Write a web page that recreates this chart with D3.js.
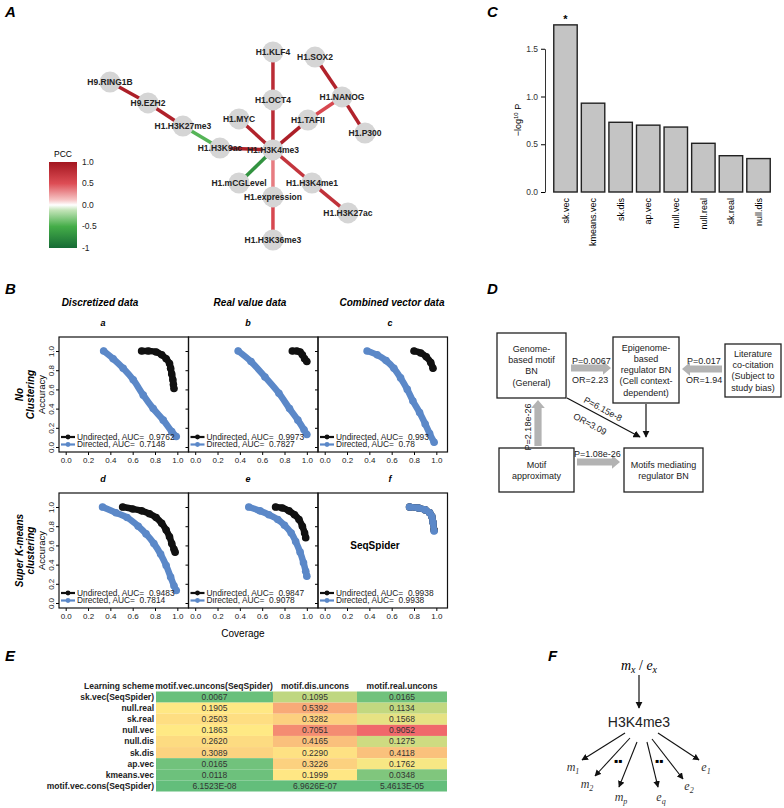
<!DOCTYPE html>
<html>
<head>
<meta charset="utf-8">
<script src="https://cdn.jsdelivr.net/npm/d3@7"></script>
<style>
body { margin: 0; background: #fff; }
svg { font-family: "Liberation Sans", Arial, sans-serif; }
</style>
</head>
<body>
<svg id="fig" width="784" height="808"></svg>
<script>

// ---------- A: PCC network ----------
var nodeNames = ["H9.RING1B", "H9.EZH2", "H1.H3K27me3", "H1.H3K9ac", "H1.MYC", "H1.mCGLevel",
    "H1.H3K4me3", "H1.KLF4", "H1.OCT4", "H1.SOX2", "H1.NANOG", "H1.P300", "H1.TAFII",
    "H1.H3K4me1", "H1.expression", "H1.H3K27ac", "H1.H3K36me3"];
// normalised layout position of each node (0..1)
var nodeLayout = [[0, 0.16], [0.149, 0.271], [0.286, 0.394], [0.431, 0.511], [0.506, 0.356], [0.506, 0.697],
    [0.639, 0.521], [0.639, 0], [0.639, 0.255], [0.804, 0.027], [0.910, 0.239], [1.0, 0.431], [0.776, 0.362],
    [0.792, 0.697], [0.639, 0.771], [0.933, 0.856], [0.639, 1.0]];
var edgeList = [
    ["H9.RING1B", "H9.EZH2", 0.92], ["H9.EZH2", "H1.H3K27me3", 0.9], ["H1.H3K27me3", "H1.H3K9ac", -0.45],
    ["H1.H3K9ac", "H1.H3K4me3", 0.92], ["H1.MYC", "H1.H3K4me3", 0.88], ["H1.mCGLevel", "H1.H3K4me3", -0.7],
    ["H1.KLF4", "H1.OCT4", 0.8], ["H1.OCT4", "H1.H3K4me3", 0.8], ["H1.TAFII", "H1.H3K4me3", 0.92],
    ["H1.TAFII", "H1.NANOG", 0.55], ["H1.SOX2", "H1.NANOG", 0.88], ["H1.NANOG", "H1.P300", 0.88],
    ["H1.H3K4me3", "H1.H3K4me1", 0.72], ["H1.H3K4me3", "H1.expression", 0.35],
    ["H1.H3K4me1", "H1.H3K27ac", 0.75], ["H1.expression", "H1.H3K36me3", 0.55]];
var pccTicks = [1, 0.5, 0, -0.5, -1];
var pccTickLabels = ["1.0", "0.5", "0.0", "-0.5", "-1"];

// ---------- B: coverage / accuracy ----------
var rocPanels = ["a", "b", "c", "d", "e", "f"];
var rocColTitles = ["Discretized data", "Real value data", "Combined vector data"];
var undirectedAUC = ["0.9762", "0.9973", "0.993", "0.9483", "0.9847", "0.9938"];
var directedAUC = ["0.7148", "0.7827", "0.78", "0.7814", "0.9078", "0.9938"];
var undirectedCurves = [
    [[0.68, 1.0], [0.74, 1.0], [0.81, 0.99], [0.86, 0.96], [0.9, 0.92], [0.93, 0.87], [0.94, 0.82], [0.95, 0.76], [0.96, 0.7], [0.965, 0.65], [0.97, 0.61]],
    [[0.87, 1.0], [0.91, 1.0], [0.94, 0.99], [0.96, 0.96], [0.98, 0.92], [1.0, 0.89]],
    [[0.8, 1.0], [0.86, 0.98], [0.91, 0.94], [0.95, 0.88], [0.97, 0.82]],
    [[0.51, 1.0], [0.6, 0.98], [0.68, 0.96], [0.75, 0.93], [0.81, 0.89], [0.86, 0.83], [0.9, 0.76], [0.93, 0.69], [0.95, 0.62], [0.97, 0.56], [0.98, 0.53]],
    [[0.72, 1.0], [0.78, 0.99], [0.84, 0.96], [0.89, 0.92], [0.93, 0.87], [0.96, 0.8], [0.98, 0.73], [0.99, 0.68]],
    [[0.76, 1.0], [0.84, 0.99], [0.9, 0.97], [0.94, 0.94], [0.96, 0.9], [0.97, 0.84], [0.98, 0.76]]];
var directedCurves = [
    [[0.34, 1.0], [0.425, 0.92], [0.515, 0.82], [0.605, 0.7], [0.695, 0.54], [0.784, 0.4], [0.874, 0.28], [0.95, 0.16], [0.99, 0.11]],
    [[0.385, 1.0], [0.5, 0.89], [0.625, 0.73], [0.75, 0.56], [0.845, 0.4], [0.92, 0.28], [0.975, 0.18], [1.0, 0.13]],
    [[0.38, 1.0], [0.47, 0.96], [0.55, 0.9], [0.62, 0.82], [0.68, 0.72], [0.74, 0.6], [0.79, 0.48], [0.85, 0.36], [0.9, 0.24], [0.94, 0.14], [0.98, 0.05]],
    [[0.33, 1.0], [0.45, 0.94], [0.55, 0.89], [0.65, 0.8], [0.72, 0.72], [0.79, 0.62], [0.85, 0.51], [0.9, 0.39], [0.94, 0.27], [0.97, 0.18], [0.99, 0.13]],
    [[0.48, 1.0], [0.58, 0.96], [0.66, 0.92], [0.74, 0.87], [0.8, 0.81], [0.86, 0.73], [0.9, 0.64], [0.94, 0.53], [0.97, 0.42], [0.99, 0.33], [1.0, 0.28]],
    [[0.76, 1.0], [0.84, 0.99], [0.9, 0.97], [0.94, 0.94], [0.96, 0.9], [0.97, 0.84], [0.98, 0.75]]];
var coverageTicks = [0, 0.2, 0.4, 0.6, 0.8, 1.0];

// ---------- C: -log10 P per learning scheme ----------
var schemes = ["sk.vec", "kmeans.vec", "sk.dis", "ap.vec", "null.vec", "null.real", "sk.real", "null.dis"];
var negLogP = [1.75, 0.93, 0.73, 0.70, 0.68, 0.51, 0.38, 0.35];
var pTicks = [0, 0.5, 1.0, 1.5];

// ---------- E: table ----------
var tableHeader = ["Learning scheme", "motif.vec.uncons(SeqSpider)", "motif.dis.uncons", "motif.real.uncons"];
var tableRows = ["sk.vec(SeqSpider)", "null.real", "sk.real", "null.vec", "null.dis", "sk.dis", "ap.vec", "kmeans.vec", "motif.vec.cons(SeqSpider)"];
var colVecUncons = ["0.0067", "0.1905", "0.2503", "0.1863", "0.2620", "0.3089", "0.0165", "0.0118", "6.1523E-08"];
var colDisUncons = ["0.1095", "0.5392", "0.3282", "0.7051", "0.4165", "0.2290", "0.3226", "0.1999", "6.9626E-07"];
var colRealUncons = ["0.0165", "0.1134", "0.1568", "0.9052", "0.1275", "0.4118", "0.1762", "0.0348", "5.4613E-05"];


var svg = d3.select("#fig");
var defs = svg.append("defs");

defs.append("marker")
    .attr("id", "arrowBlack")
    .attr("viewBox", "0 0 10 10")
    .attr("refX", 9).attr("refY", 5)
    .attr("markerWidth", 6).attr("markerHeight", 6)
    .attr("orient", "auto")
    .append("path")
    .attr("d", "M0,0L10,5L0,10z")
    .attr("fill", "#111");

var panelLetters = {
    init: function() {
        var spots = [["A", 5, 17], ["B", 5, 294], ["C", 487, 17], ["D", 487, 294], ["E", 5, 661], ["F", 548, 661]];
        svg.selectAll(".panel-letter")
            .data(spots)
            .enter()
            .append("text")
            .attr("class", "panel-letter")
            .attr("x", function(d) { return d[1] })
            .attr("y", function(d) { return d[2] })
            .attr("font-size", 15)
            .attr("font-weight", "bold")
            .attr("font-style", "italic")
            .text(function(d) { return d[0] })
    }
}

var createNetwork = {
    init: function() {
        var g = svg.append("g").attr("class", "network");
        var nx = d3.scaleLinear().domain([0, 1]).range([110, 365]);
        var ny = d3.scaleLinear().domain([0, 1]).range([52, 240]);
        var pcc = d3.scaleLinear()
            .domain([-1, -0.5, -0.12, 0, 0.12, 0.5, 1])
            .range(["#166b35", "#44ad48", "#c3e4b8", "#ffffff", "#f6c4c4", "#dd4d55", "#a3161f"]);

        var pos = {};
        nodeNames.forEach(function(n, i) {
            pos[n] = [nx(nodeLayout[i][0]), ny(nodeLayout[i][1])];
        });

        g.selectAll(".edge")
            .data(edgeList)
            .enter()
            .append("line")
            .attr("class", "edge")
            .attr("x1", function(d) { return pos[d[0]][0] })
            .attr("y1", function(d) { return pos[d[0]][1] })
            .attr("x2", function(d) { return pos[d[1]][0] })
            .attr("y2", function(d) { return pos[d[1]][1] })
            .attr("stroke", function(d) { return pcc(d[2]) })
            .attr("stroke-width", 3.5)

        g.selectAll(".node")
            .data(nodeNames)
            .enter()
            .append("circle")
            .attr("class", "node")
            .attr("cx", function(d) { return pos[d][0] })
            .attr("cy", function(d) { return pos[d][1] })
            .attr("r", 10.5)
            .attr("fill", "#d5d5d5")

        g.selectAll(".node-label")
            .data(nodeNames)
            .enter()
            .append("text")
            .attr("class", "node-label")
            .attr("x", function(d) { return pos[d][0] })
            .attr("y", function(d) { return pos[d][1] })
            .attr("dy", "0.35em")
            .attr("text-anchor", "middle")
            .attr("font-size", 8.5)
            .attr("font-weight", "bold")
            .attr("fill", "#222")
            .text(function(d) { return d })

        // colour bar
        var grad = defs.append("linearGradient")
            .attr("id", "pccGrad")
            .attr("x1", 0).attr("y1", 0).attr("x2", 0).attr("y2", 1);
        pcc.domain().slice().reverse().forEach(function(v) {
            grad.append("stop")
                .attr("offset", ((1 - v) / 2 * 100) + "%")
                .attr("stop-color", pcc(v));
        });
        var cb = d3.scaleLinear().domain([1, -1]).range([162, 248]);
        g.append("rect")
            .attr("x", 49).attr("y", cb(1))
            .attr("width", 28).attr("height", cb(-1) - cb(1))
            .attr("fill", "url(#pccGrad)")
        g.append("text")
            .attr("x", 63).attr("y", 157)
            .attr("text-anchor", "middle")
            .attr("font-size", 8.5)
            .text("PCC")
        g.selectAll(".pcc-tick")
            .data(pccTicks)
            .enter()
            .append("text")
            .attr("class", "pcc-tick")
            .attr("x", 82)
            .attr("y", function(d) { return cb(d) })
            .attr("dy", "0.35em")
            .attr("font-size", 8.5)
            .attr("fill", "#222")
            .text(function(d, i) { return pccTickLabels[i] })
    }
}

var createRoc = {
    init: function() {
        var g = svg.append("g").attr("class", "roc");
        var pw = 129.5;
        var rows = [[337, 452], [493, 608]];
        var line = d3.line().curve(d3.curveCatmullRom);

        rocColTitles.forEach(function(t, i) {
            g.append("text")
                .attr("x", [100, 250, 392][i]).attr("y", 306)
                .attr("text-anchor", "middle")
                .attr("font-size", 10).attr("font-weight", "bold").attr("font-style", "italic")
                .text(t)
        });

        rocPanels.forEach(function(name, k) {
            var col = k % 3, row = Math.floor(k / 3);
            var left = 59 + col * pw;
            var top = rows[row][0], bottom = rows[row][1];
            var x = d3.scaleLinear().domain([-0.06, 1.1]).range([left, left + pw]);
            var y = d3.scaleLinear().domain([-0.052, 1.146]).range([bottom, top]);

            g.append("text")
                .attr("x", [103, 248, 390][col]).attr("y", top - 11)
                .attr("text-anchor", "middle")
                .attr("font-size", 9).attr("font-weight", "bold").attr("font-style", "italic")
                .text(name)

            var ya = g.append("g")
                .attr("transform", "translate(" + left + ",0)")
                .call(d3.axisLeft(y).tickValues(coverageTicks).tickSize(3)
                    .tickFormat(col === 0 ? d3.format(".1f") : ""));
            ya.select(".domain").remove();
            ya.selectAll("text")
                .attr("x", 0).attr("y", -5).attr("dy", 0)
                .attr("transform", "rotate(-90)")
                .attr("text-anchor", "middle")
                .attr("font-size", 8).attr("font-family", null).attr("fill", "#222");

            var xa = g.append("g")
                .attr("transform", "translate(0," + bottom + ")")
                .call(d3.axisBottom(x).tickValues(coverageTicks).tickSize(3).tickPadding(2).tickFormat(d3.format(".1f")));
            xa.select(".domain").remove();
            xa.selectAll("text").attr("font-size", 8).attr("font-family", null).attr("fill", "#222");

            var series = [[undirectedCurves[k], "#111"], [directedCurves[k], "#5b88c8"]];
            series.forEach(function(s) {
                var pts = s[0].map(function(p) { return [x(p[0]), y(p[1])] });
                g.append("path")
                    .attr("d", line(pts))
                    .attr("fill", "none")
                    .attr("stroke", s[1])
                    .attr("stroke-width", 6.5)
                    .attr("stroke-linecap", "round")
                    .attr("stroke-linejoin", "round")
                g.selectAll(null)
                    .data(pts)
                    .enter()
                    .append("circle")
                    .attr("cx", function(d) { return d[0] })
                    .attr("cy", function(d) { return d[1] })
                    .attr("r", 3.8)
                    .attr("fill", s[1])
            });

            // legend
            var leg = [["Undirected, AUC=\u00a0 " + undirectedAUC[k], "#111", bottom - 15],
                       ["Directed, AUC=\u00a0 " + directedAUC[k], "#5b88c8", bottom - 7.5]];
            leg.forEach(function(l) {
                g.append("line")
                    .attr("x1", left + 2).attr("x2", left + 16)
                    .attr("y1", l[2]).attr("y2", l[2])
                    .attr("stroke", l[1]).attr("stroke-width", 2.2)
                g.append("circle")
                    .attr("cx", left + 9).attr("cy", l[2]).attr("r", 2.4)
                    .attr("fill", l[1])
                g.append("text")
                    .attr("x", left + 18).attr("y", l[2])
                    .attr("dy", "0.35em")
                    .attr("font-size", 8.4).attr("fill", "#222")
                    .text(l[0])
            });

            g.append("rect")
                .attr("x", left).attr("y", top)
                .attr("width", pw).attr("height", bottom - top)
                .attr("fill", "none").attr("stroke", "#111").attr("stroke-width", 1.2)
        });

        g.append("text")
            .attr("x", 375).attr("y", 549)
            .attr("text-anchor", "middle")
            .attr("font-size", 10).attr("font-weight", "bold")
            .text("SeqSpider")

        g.append("text")
            .attr("x", 243).attr("y", 637)
            .attr("text-anchor", "middle")
            .attr("font-size", 10)
            .text("Coverage")

        var rowTitles = [[["No", "Clustering"], 394.5], [["Super K-means", "clustering"], 550.5]];
        rowTitles.forEach(function(r) {
            r[0].forEach(function(t, j) {
                g.append("text")
                    .attr("transform", "translate(" + (23 + j * 11) + "," + r[1] + ") rotate(-90)")
                    .attr("text-anchor", "middle")
                    .attr("font-size", 10).attr("font-weight", "bold").attr("font-style", "italic")
                    .text(t)
            });
            g.append("text")
                .attr("transform", "translate(45," + r[1] + ") rotate(-90)")
                .attr("text-anchor", "middle")
                .attr("font-size", 9.5)
                .text("Accuracy")
        });
    }
}

var createBars = {
    init: function() {
        var g = svg.append("g").attr("class", "bars");
        var x = d3.scaleBand().domain(schemes).range([551, 773]).paddingInner(0.15).paddingOuter(0.1);
        var y = d3.scaleLinear().domain([0, 1.5]).range([192, 48.75]);

        g.selectAll(".bar")
            .data(schemes)
            .enter()
            .append("rect")
            .attr("class", "bar")
            .attr("x", function(d) { return x(d) })
            .attr("width", x.bandwidth())
            .attr("y", function(d, i) { return y(negLogP[i]) })
            .attr("height", function(d, i) { return y(0) - y(negLogP[i]) })
            .attr("fill", "#c4c4c4")
            .attr("stroke", "#222")
            .attr("stroke-width", 1.4)

        g.append("text")
            .attr("x", x(schemes[0]) + x.bandwidth() / 2)
            .attr("y", y(negLogP[0]) - 2)
            .attr("text-anchor", "middle")
            .attr("font-size", 11).attr("font-weight", "bold")
            .text("*")

        var ya = g.append("g")
            .attr("transform", "translate(545,0)")
            .call(d3.axisLeft(y).tickValues(pTicks).tickSize(4).tickSizeOuter(0).tickFormat(d3.format(".1f")));
        ya.selectAll("text").attr("font-size", 8.5).attr("font-family", null).attr("fill", "#333");
        ya.select(".domain").attr("stroke", "#333");

        g.selectAll(".bar-label")
            .data(schemes)
            .enter()
            .append("text")
            .attr("class", "bar-label")
            .attr("transform", function(d) {
                return "translate(" + (x(d) + x.bandwidth() / 2) + ",198) rotate(-90)";
            })
            .attr("dy", "0.35em")
            .attr("text-anchor", "end")
            .attr("font-size", 9)
            .text(function(d) { return d })

        var lab = g.append("text")
            .attr("transform", "translate(521,120) rotate(-90)")
            .attr("text-anchor", "middle")
            .attr("font-size", 9);
        lab.append("tspan").text("\u2212log");
        lab.append("tspan").attr("font-size", 6).attr("dy", -3).text("10");
        lab.append("tspan").attr("dy", 3).text(" P");
    }
}

var createFlow = {
    init: function() {
        var g = svg.append("g").attr("class", "flow");
        var boxes = [
            [497, 333, 69, 65, ["Genome-", "based motif", "BN", "(General)"]],
            [613, 337, 66, 66, ["Epigenome-", "based", "regulator BN", "(Cell context-", "dependent)"]],
            [725, 344, 56, 53, ["Literature", "co-citation", "(Subject to", "study bias)"]],
            [499, 448, 75, 44, ["Motif", "approximaty"]],
            [624, 448, 79, 44, ["Motifs mediating", "regulator BN"]]];

        boxes.forEach(function(b) {
            g.append("rect")
                .attr("x", b[0]).attr("y", b[1]).attr("width", b[2]).attr("height", b[3])
                .attr("fill", "#fff").attr("stroke", "#222").attr("stroke-width", 1.3)
            var cy = b[1] + b[3] / 2, n = b[4].length;
            b[4].forEach(function(t, i) {
                g.append("text")
                    .attr("x", b[0] + b[2] / 2)
                    .attr("y", cy + (i - (n - 1) / 2) * 11.3)
                    .attr("dy", "0.35em")
                    .attr("text-anchor", "middle")
                    .attr("font-size", 9).attr("fill", "#222")
                    .text(t)
            });
        });

        function blockArrow(x1, y1, x2, y2) {
            var L = Math.hypot(x2 - x1, y2 - y1), a = Math.atan2(y2 - y1, x2 - x1) * 180 / Math.PI;
            var s = 3.6, h = 6.8, hl = 8;
            g.append("path")
                .attr("d", "M0," + (-s) + "L" + (L - hl) + "," + (-s) + "L" + (L - hl) + "," + (-h) + "L" + L + ",0L" +
                    (L - hl) + "," + h + "L" + (L - hl) + "," + s + "L0," + s + "Z")
                .attr("transform", "translate(" + x1 + "," + y1 + ") rotate(" + a + ")")
                .attr("fill", "#b3b3b3")
        }
        blockArrow(571, 368, 611, 368);
        blockArrow(722, 369, 682, 369);
        blockArrow(538, 446, 538, 400);
        blockArrow(577, 462, 620, 462);

        g.append("line")
            .attr("x1", 567).attr("y1", 398).attr("x2", 640).attr("y2", 437)
            .attr("stroke", "#111").attr("stroke-width", 1.2)
            .attr("marker-end", "url(#arrowBlack)")
        g.append("line")
            .attr("x1", 646).attr("y1", 404).attr("x2", 646).attr("y2", 437)
            .attr("stroke", "#111").attr("stroke-width", 1.2)
            .attr("marker-end", "url(#arrowBlack)")

        var notes = [["P=0.0067", 572, 364, 0], ["OR=2.23", 572, 383, 0],
                     ["P=0.017", 687, 364, 0], ["OR=1.94", 686, 383, 0],
                     ["P=1.08e-26", 574, 457, 0]];
        notes.forEach(function(n) {
            g.append("text")
                .attr("x", n[1]).attr("y", n[2])
                .attr("font-size", 9).attr("fill", "#222")
                .text(n[0])
        });
        var tilted = [["P=2.18e-26", 528, 427, -90], ["P=6.15e-8", 603, 409, 28], ["OR=3.09", 590, 424, 28]];
        tilted.forEach(function(n) {
            g.append("text")
                .attr("transform", "translate(" + n[1] + "," + n[2] + ") rotate(" + n[3] + ")")
                .attr("dy", "0.35em")
                .attr("text-anchor", "middle")
                .attr("font-size", 9).attr("fill", "#222")
                .text(n[0])
        });
    }
}

var createTable = {
    init: function() {
        var g = svg.append("g").attr("class", "table");
        var cols = [colVecUncons, colDisUncons, colRealUncons];
        var all = d3.merge(cols).map(function(v) { return +v });
        var color = d3.scaleLinear()
            .domain([d3.min(all), d3.median(all), d3.max(all)])
            .range(["#63be7b", "#ffe984", "#f0686b"]);
        var colX = d3.scaleOrdinal().domain([0, 1, 2]).range([156, 273, 357]);
        var colW = [117, 84, 90];
        var rowY = d3.scaleBand().domain(tableRows).range([691.5, 791.5]);

        var headX = [154, 214, 315, 402];
        tableHeader.forEach(function(h, i) {
            g.append("text")
                .attr("x", headX[i]).attr("y", 686)
                .attr("dy", "0.35em")
                .attr("text-anchor", i === 0 ? "end" : "middle")
                .attr("font-size", 8.5).attr("font-weight", "bold").attr("fill", "#222")
                .text(h)
        });

        g.selectAll(".row-label")
            .data(tableRows)
            .enter()
            .append("text")
            .attr("class", "row-label")
            .attr("x", 154)
            .attr("y", function(d) { return rowY(d) + rowY.bandwidth() / 2 })
            .attr("dy", "0.35em")
            .attr("text-anchor", "end")
            .attr("font-size", 8.5).attr("font-weight", "bold").attr("fill", "#222")
            .text(function(d) { return d })

        cols.forEach(function(c, ci) {
            tableRows.forEach(function(r, ri) {
                g.append("rect")
                    .attr("x", colX(ci)).attr("y", rowY(r))
                    .attr("width", colW[ci]).attr("height", rowY.bandwidth())
                    .attr("fill", color(+c[ri]))
                g.append("text")
                    .attr("x", colX(ci) + colW[ci] / 2)
                    .attr("y", rowY(r) + rowY.bandwidth() / 2)
                    .attr("dy", "0.35em")
                    .attr("text-anchor", "middle")
                    .attr("font-size", 8.5).attr("fill", "#333")
                    .text(c[ri])
            });
        });
    }
}

var createTree = {
    init: function() {
        var g = svg.append("g").attr("class", "tree");
        var math = "'Liberation Serif', 'DejaVu Serif', serif";

        var top = g.append("text")
            .attr("x", 639).attr("y", 670)
            .attr("text-anchor", "middle")
            .attr("font-family", math).attr("font-size", 14).attr("font-style", "italic");
        top.append("tspan").text("m");
        top.append("tspan").attr("font-size", 10).attr("dy", 3).text("x");
        top.append("tspan").attr("dy", -3).attr("font-style", "normal").text(" / ");
        top.append("tspan").text("e");
        top.append("tspan").attr("font-size", 10).attr("dy", 3).text("x");

        g.append("line")
            .attr("x1", 639).attr("y1", 675).attr("x2", 639).attr("y2", 708)
            .attr("stroke", "#111").attr("stroke-width", 1.2)
            .attr("marker-end", "url(#arrowBlack)")

        g.append("text")
            .attr("x", 639).attr("y", 727)
            .attr("text-anchor", "middle")
            .attr("font-size", 14).attr("fill", "#222")
            .text("H3K4me3")

        var kids = [["m", "1", 625, 733, 582, 760, 573, 771], ["m", "2", 630, 738, 595, 776, 587, 788],
                    ["m", "p", 637, 742, 619, 787, 621, 801], ["e", "q", 647, 742, 658, 787, 661, 801],
                    ["e", "2", 652, 739, 683, 779, 689, 790], ["e", "1", 658, 733, 699, 760, 706, 771]];
        kids.forEach(function(k) {
            g.append("line")
                .attr("x1", k[2]).attr("y1", k[3]).attr("x2", k[4]).attr("y2", k[5])
                .attr("stroke", "#111").attr("stroke-width", 1.1)
                .attr("marker-end", "url(#arrowBlack)")
            var t = g.append("text")
                .attr("x", k[6]).attr("y", k[7])
                .attr("text-anchor", "middle")
                .attr("font-family", math).attr("font-size", 12).attr("font-style", "italic").attr("fill", "#333");
            t.append("tspan").text(k[0]);
            t.append("tspan").attr("font-size", 8).attr("dy", 3).text(k[1]);
        });

        [618, 659].forEach(function(cx) {
            g.append("text")
                .attr("x", cx).attr("y", 765)
                .attr("text-anchor", "middle")
                .attr("font-size", 12).attr("font-weight", "bold")
                .text("\u25AA\u25AA")
        });
    }
}

panelLetters.init();
createNetwork.init();
createRoc.init();
createBars.init();
createFlow.init();
createTable.init();
createTree.init();

</script>
</body>
</html>
